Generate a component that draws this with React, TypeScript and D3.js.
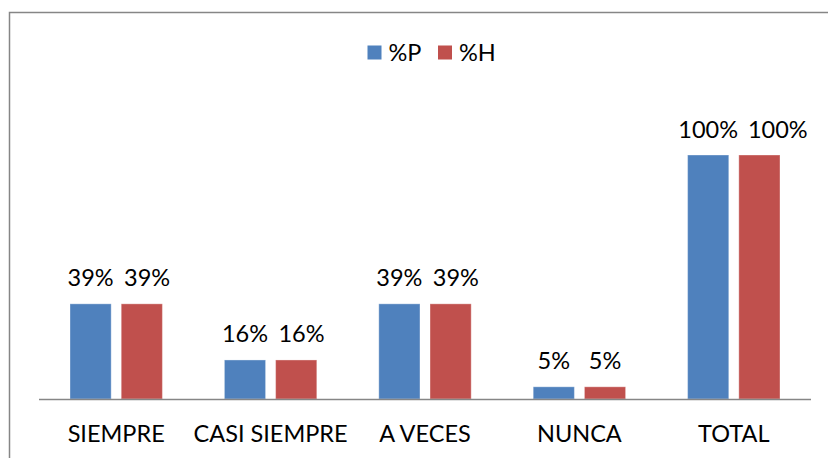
import React from "react";
import * as d3 from "d3";

const categories = ["SIEMPRE", "CASI SIEMPRE", "A VECES", "NUNCA", "TOTAL"];
const series = ["%P", "%H"];
const valuesP = [39, 16, 39, 5, 100];
const valuesH = [39, 16, 39, 5, 100];
const colors = ["#4F81BD", "#C0504D"];

const W = 828, H = 458;
const FONT = "Lato, 'Liberation Sans', Arial, sans-serif";
const FS = 23.5;

export default function App() {
  const x = d3.scaleBand().domain(categories).range([39, 811]);
  const step = x.bandwidth();
  const x1 = d3.scaleBand().domain(series).range([31, step - 31]).paddingInner(0.196);
  const y = d3.scaleLinear().domain([0, 100]).range([399, 155]);

  const rows = categories.map((c, i) => ({ cat: c, vals: [valuesP[i], valuesH[i]] }));

  // rough label width so the second label can be nudged when two labels collide
  const labelW = (s: string) => s.length * FS * 0.56;

  return (
    <svg width={W} height={H} style={{ position: "absolute", left: 0, top: 0 }} fontFamily={FONT}>
      <rect x={0} y={0} width={W} height={H} fill="#fff" />
      <rect x={9.5} y={12.5} width={W + 20} height={H + 20} fill="none" stroke="#868686" strokeWidth={1.5} />

      {/* legend */}
      {series.map((s, i) => {
        const lx = i === 0 ? 367.5 : 438;
        return (
          <g key={s}>
            <rect x={lx} y={45.5} width={14} height={14} fill={colors[i]} />
            <text x={lx + 21} y={60.5} fontSize={FS} fill="#000">{s}</text>
          </g>
        );
      })}

      {rows.map(r => {
        const bw = x1.bandwidth();
        const c0 = x1(series[0])! + bw / 2;
        const c1 = x1(series[1])! + bw / 2;
        const t0 = r.vals[0] + "%", t1 = r.vals[1] + "%";
        const overlap = (c0 + labelW(t0) / 2 + 17) - (c1 - labelW(t1) / 2);
        const centers = [c0, overlap > 0 ? c1 + overlap : c1];
        return (
          <g key={r.cat} transform={`translate(${x(r.cat)},0)`}>
            {r.vals.map((v, j) => {
              const bx = x1(series[j])!;
              return (
                <g key={j}>
                  <rect x={bx} y={y(v)} width={bw} height={y(0) - y(v)}
                    fill={colors[j]} stroke="#fff" strokeOpacity={0.35} strokeWidth={1} />
                  <text x={centers[j]} y={y(v) - 17.5} textAnchor="middle" fontSize={FS} fill="#000">
                    {v + "%"}
                  </text>
                </g>
              );
            })}
            <text x={step / 2} y={441.5} textAnchor="middle" fontSize={FS} fill="#000">{r.cat}</text>
          </g>
        );
      })}

      <line x1={39} x2={811} y1={399.5} y2={399.5} stroke="#868686" strokeWidth={1.5} />
    </svg>
  );
}
